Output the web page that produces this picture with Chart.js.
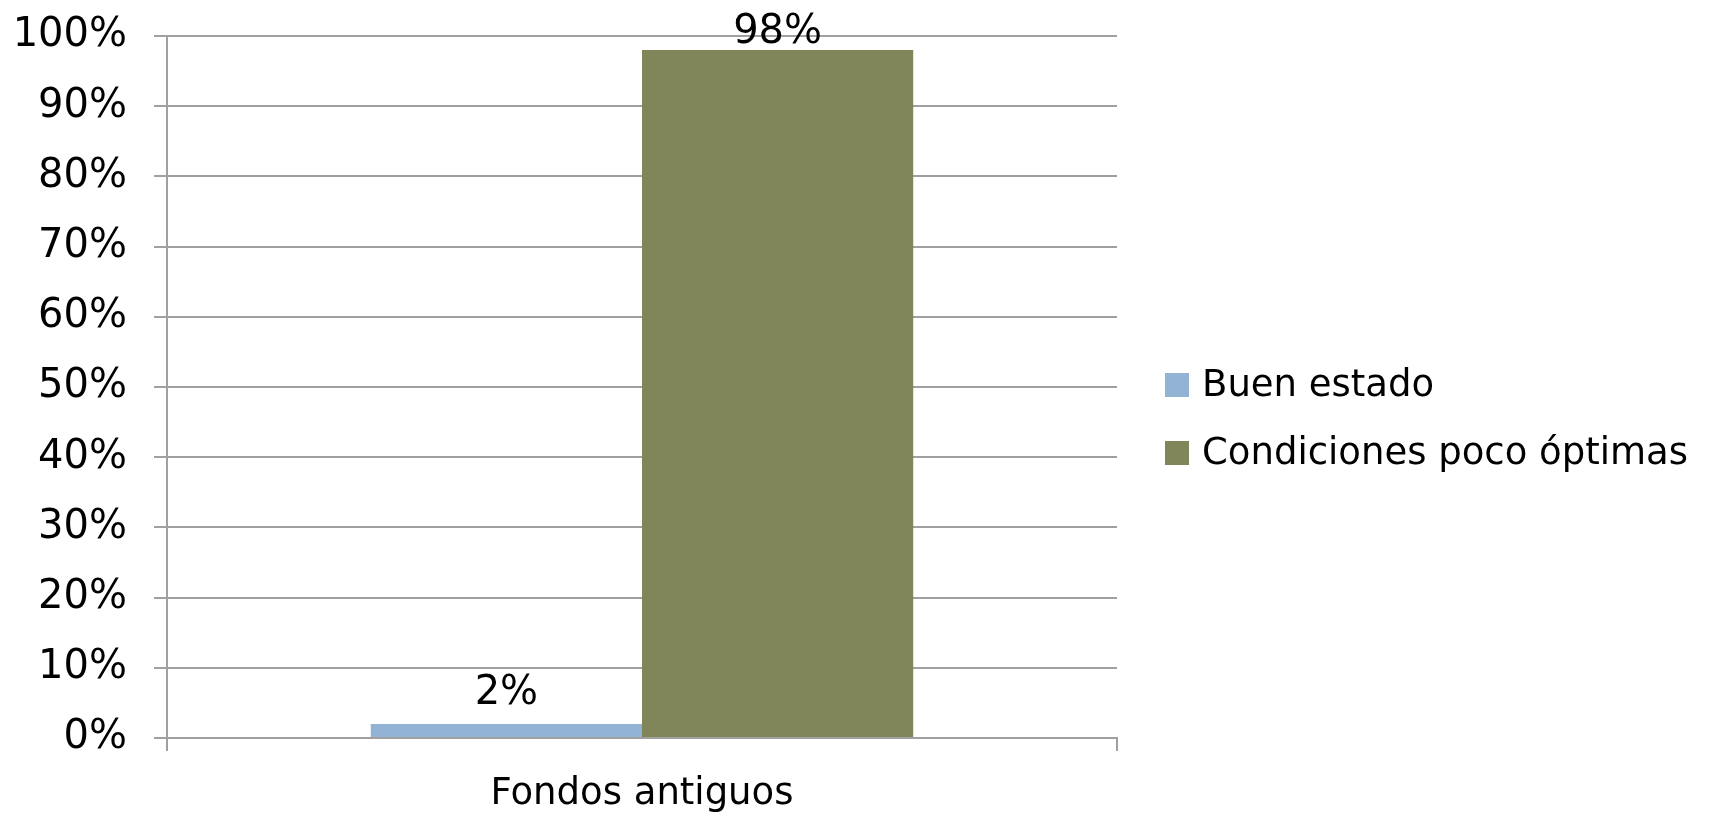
<!DOCTYPE html>
<html>
<head>
<meta charset="utf-8">
<script src="https://cdn.jsdelivr.net/npm/chart.js@4.4.1/dist/chart.umd.min.js"></script>
<style>
html,body{margin:0;padding:0;background:#fff;}
#wrap{width:1711px;height:813px;position:relative;}
</style>
</head>
<body>
<div id="wrap"><canvas id="c" width="1711" height="813"></canvas></div>
<script>
const categories = ['Fondos antiguos'];
const seriesNames = ['Buen estado', 'Condiciones poco óptimas'];
const buenEstado = [0.02];
const condicionesPocoOptimas = [0.98];
const seriesColors = ['#93B3D4', '#80865A'];
const yTickLabels = ['0%','10%','20%','30%','40%','50%','60%','70%','80%','90%','100%'];
const valueLabels = [['2%'], ['98%']];

const FONT = '"DejaVu Sans", sans-serif';
const FS = 40;
const FS_TEXT = 37;
const AXIS_COLOR = '#a0a0a0';

const dataLabelPlugin = {
  id: 'dataLabels',
  afterDatasetsDraw(chart) {
    const ctx = chart.ctx;
    ctx.save();
    ctx.font = FS + 'px ' + FONT;
    ctx.fillStyle = '#000';
    ctx.textAlign = 'center';
    ctx.textBaseline = 'alphabetic';
    chart.data.datasets.forEach((ds, i) => {
      const meta = chart.getDatasetMeta(i);
      meta.data.forEach((bar, j) => {
        let y = bar.y - 20;
        const minY = chart.chartArea.top + 7;
        if (y < minY) y = minY;
        ctx.fillText(valueLabels[i][j], bar.x, y);
      });
    });
    ctx.restore();
  }
};

const legendPlugin = {
  id: 'customLegend',
  afterDraw(chart) {
    const ctx = chart.ctx;
    ctx.save();
    ctx.font = FS_TEXT + 'px ' + FONT;
    ctx.textBaseline = 'middle';
    ctx.textAlign = 'left';
    const x0 = chart.chartArea.right + 48;
    const yc = (chart.chartArea.top + chart.chartArea.bottom) / 2 - 2;
    const gap = 68;
    chart.data.datasets.forEach((ds, i) => {
      const cy = yc + i * gap;
      ctx.fillStyle = ds.backgroundColor;
      ctx.fillRect(x0, cy - 12, 24, 24);
      ctx.fillStyle = '#000';
      ctx.fillText(ds.label, x0 + 37, cy + 1);
    });
    ctx.restore();
  }
};

new Chart(document.getElementById('c'), {
  type: 'bar',
  data: {
    labels: categories,
    datasets: [
      { label: seriesNames[0], data: buenEstado, backgroundColor: seriesColors[0], borderWidth: 0 },
      { label: seriesNames[1], data: condicionesPocoOptimas, backgroundColor: seriesColors[1], borderWidth: 0 }
    ]
  },
  options: {
    responsive: false,
    animation: false,
    devicePixelRatio: 1,
    layout: { padding: { top: 36, right: 594, bottom: 0, left: 0 } },
    datasets: { bar: { barPercentage: 1, categoryPercentage: 0.571 } },
    plugins: { legend: { display: false }, tooltip: { enabled: false } },
    scales: {
      x: {
        grid: { offset: true, drawOnChartArea: false, color: AXIS_COLOR, lineWidth: 2, tickLength: 13 },
        border: { color: AXIS_COLOR, width: 2 },
        ticks: { color: '#000', font: { family: FONT, size: FS_TEXT }, padding: 21 },
        afterFit(s) { s.height = 75; s.paddingLeft = 0; s.paddingRight = 0; }
      },
      y: {
        min: 0, max: 1,
        ticks: {
          stepSize: 0.1,
          color: '#000',
          font: { family: FONT, size: FS },
          padding: 27,
          callback: (v, i) => yTickLabels[i]
        },
        grid: { color: AXIS_COLOR, lineWidth: 2, tickLength: 13 },
        border: { color: AXIS_COLOR, width: 2 },
        afterFit(s) { s.width = 167; s.paddingTop = 0; s.paddingBottom = 0; }
      }
    }
  },
  plugins: [dataLabelPlugin, legendPlugin]
});
</script>
</body>
</html>
